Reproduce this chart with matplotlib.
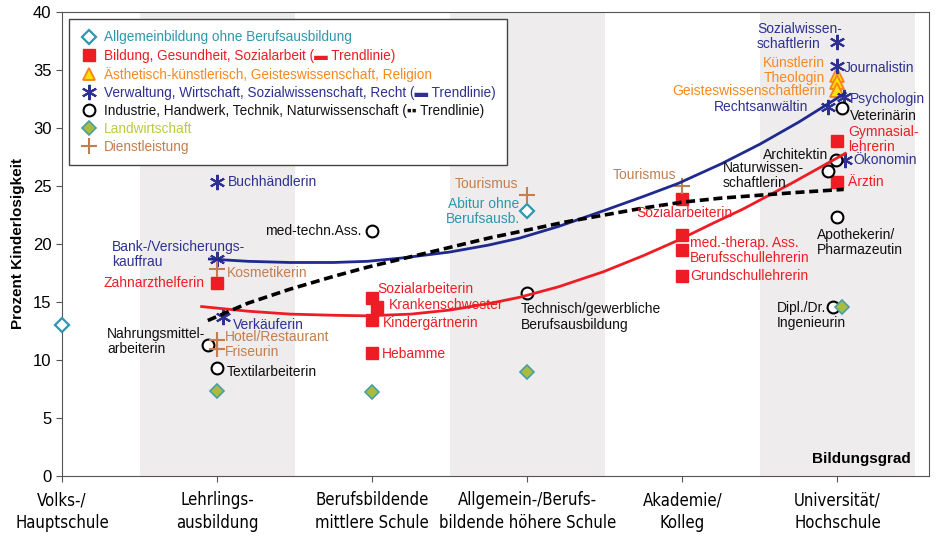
import matplotlib
matplotlib.use("Agg")
import matplotlib.pyplot as plt
from matplotlib.lines import Line2D

plt.rcParams['font.family'] = ['Liberation Sans', 'DejaVu Sans']

# Bildungsgrad categories (x axis)
categories = ["Volks-/\nHauptschule", "Lehrlings-\nausbildung", "Berufsbildende\nmittlere Schule",
              "Allgemein-/Berufs-\nbildende höhere Schule", "Akademie/\nKolleg", "Universität/\nHochschule"]

# Allgemeinbildung ohne Berufsausbildung
allg_x = [0, 3]
allg_y = [13.0, 22.8]

# Bildung, Gesundheit, Sozialarbeit
bild_x = [1, 2, 2.03, 2, 2, 4, 4, 4, 4, 5, 5]
bild_y = [16.6, 15.3, 14.6, 13.4, 10.6, 23.9, 20.8, 19.5, 17.2, 28.9, 25.3]

# Ästhetisch-künstlerisch, Geisteswissenschaft, Religion
aest_x = [5, 5, 5]
aest_y = [34.6, 34.0, 33.3]

# Verwaltung, Wirtschaft, Sozialwissenschaft, Recht
verw_x = [1, 1, 1.04, 5, 5, 5.04, 4.94, 5.05]
verw_y = [25.3, 18.7, 13.7, 37.4, 35.3, 32.7, 31.8, 27.2]

# Industrie, Handwerk, Technik, Naturwissenschaft
ind_x = [0.94, 1, 2, 3, 5.03, 4.99, 4.94, 5, 4.97]
ind_y = [11.3, 9.3, 21.1, 15.8, 31.7, 27.2, 26.3, 22.3, 14.6]

# Landwirtschaft
land_x = [1, 2, 3, 5.03]
land_y = [7.3, 7.2, 9.0, 14.6]

# Dienstleistung
dienst_x = [1, 1, 1, 3, 4]
dienst_y = [17.8, 11.7, 10.9, 24.2, 25.0]

# trend lines
red_tx = [0.9, 1.2, 1.47, 1.75, 1.97, 2.25, 2.5, 2.75, 2.95, 3.2, 3.49, 3.75, 3.97, 4.2, 4.39, 4.7, 5.05]
red_ty = [14.6, 14.2, 13.95, 13.85, 13.8, 13.95, 14.3, 14.85, 15.4, 16.3, 17.6, 19.0, 20.3, 21.8, 23.0, 25.2, 27.8]
blue_tx = [0.95, 1.2, 1.47, 1.75, 1.97, 2.2, 2.5, 2.75, 2.95, 3.2, 3.5, 3.75, 3.97, 4.25, 4.5, 4.75, 5.05]
blue_ty = [18.7, 18.5, 18.4, 18.4, 18.5, 18.8, 19.3, 19.9, 20.5, 21.5, 22.9, 24.1, 25.2, 26.9, 28.6, 30.5, 33.0]
black_tx = [0.94, 1.2, 1.47, 1.75, 1.97, 2.25, 2.5, 2.75, 3.0, 3.25, 3.5, 3.75, 4.0, 4.25, 4.5, 4.75, 5.04]
black_ty = [13.4, 14.9, 16.1, 17.2, 18.0, 18.9, 19.7, 20.5, 21.2, 21.9, 22.5, 23.1, 23.6, 23.95, 24.2, 24.45, 24.7]

# label placement: text, x, y, ha, colour key
labels = [
    ("Buchhändlerin", 1.07, 25.3, "left", "blue"),
    ("Bank-/Versicherungs-\nkauffrau", 0.32, 19.1, "left", "blue"),
    ("Verkäuferin", 1.10, 13.0, "left", "blue"),
    ("Sozialwissen-\nschaftlerin", 4.48, 37.9, "left", "blue"),
    ("Journalistin", 5.04, 35.2, "left", "blue"),
    ("Rechtsanwältin", 4.81, 31.8, "right", "blue"),
    ("Psychologin", 5.08, 32.5, "left", "blue"),
    ("Ökonomin", 5.10, 27.2, "left", "blue"),
    ("Zahnarzthelferin", 0.92, 16.6, "right", "red"),
    ("Sozialarbeiterin", 2.03, 16.1, "left", "red"),
    ("Krankenschwester", 2.11, 14.7, "left", "red"),
    ("Kindergärtnerin", 2.07, 13.2, "left", "red"),
    ("Hebamme", 2.06, 10.5, "left", "red"),
    ("Sozialarbeiterin", 4.01, 22.7, "center", "red"),
    ("med.-therap. Ass.\nBerufsschullehrerin", 4.05, 19.4, "left", "red"),
    ("Grundschullehrerin", 4.05, 17.2, "left", "red"),
    ("Gymnasial-\nlehrerin", 5.07, 29.0, "left", "red"),
    ("Ärztin", 5.07, 25.3, "left", "red"),
    ("Künstlerin", 4.92, 35.6, "right", "orange"),
    ("Theologin", 4.92, 34.3, "right", "orange"),
    ("Geisteswissenschaftlerin", 4.92, 33.2, "right", "orange"),
    ("Nahrungsmittel-\narbeiterin", 0.29, 11.6, "left", "black"),
    ("Textilarbeiterin", 1.06, 9.0, "left", "black"),
    ("med-techn.Ass.", 1.93, 21.1, "right", "black"),
    ("Technisch/gewerbliche\nBerufsausbildung", 2.96, 13.7, "left", "black"),
    ("Veterinärin", 5.08, 31.0, "left", "black"),
    ("Architektin", 4.94, 27.7, "right", "black"),
    ("Naturwissen-\nschaftlerin", 4.26, 25.9, "left", "black"),
    ("Apothekerin/\nPharmazeutin", 4.87, 20.1, "left", "black"),
    ("Dipl./Dr.\nIngenieurin", 4.61, 13.8, "left", "black"),
    ("Kosmetikerin", 1.06, 17.5, "left", "brown"),
    ("Hotel/Restaurant\nFriseurin", 1.05, 11.3, "left", "brown"),
    ("Tourismus", 2.94, 25.2, "right", "brown"),
    ("Tourismus", 3.96, 25.9, "right", "brown"),
    ("Abitur ohne\nBerufsausb.", 2.95, 22.8, "right", "teal"),
]

colors = {"teal": "#2E97AE", "red": "#EE1D25", "orange": "#F7891F", "blue": "#2E3192",
          "black": "#111111", "green": "#B9CB3C", "brown": "#C47E4E"}

fig = plt.figure(figsize=(9.4, 5.39), dpi=100)
ax = fig.add_axes([0.066, 0.117, 0.9223, 0.8609])

for c in [1, 3, 5]:
    ax.axvspan(c - 0.5, c + 0.5, color="#EEECEC", zorder=0, lw=0)

ax.plot(allg_x, allg_y, ls="none", marker="D", ms=7.5, mfc="white", mec=colors["teal"], mew=1.6, zorder=3, clip_on=False)
ax.plot(bild_x, bild_y, ls="none", marker="s", ms=9, color=colors["red"], zorder=3)
ax.plot(aest_x, aest_y, ls="none", marker="^", ms=9.5, mfc="#FFE000", mec="#F58220", mew=1.3, zorder=3)
ax.plot(verw_x, verw_y, ls="none", marker=(6, 2, 0), ms=11, mec=colors["blue"], mew=1.5, zorder=3)
ax.plot(ind_x, ind_y, ls="none", marker="o", ms=8.5, mfc="white", mec="black", mew=1.5, zorder=3)
ax.plot(land_x, land_y, ls="none", marker="D", ms=7.5, mfc="#A9BC3F", mec="#4A9FA6", mew=1.2, zorder=3)
ax.plot(dienst_x, dienst_y, ls="none", marker="+", ms=11, mec=colors["brown"], mew=1.5, zorder=3)

ax.plot(red_tx, red_ty, color="#EE1D25", lw=2, zorder=4)
ax.plot(blue_tx, blue_ty, color="#1F2A8F", lw=2, zorder=4)
ax.plot(black_tx, black_ty, color="black", lw=2.6, ls=(0, (2.5, 1.3)), zorder=4)

for txt, x, y, ha, ck in labels:
    ax.text(x, y, txt, ha=ha, va="center", fontsize=10, color=colors[ck],
            linespacing=1.1, zorder=5)

ax.text(5.47, 1.5, "Bildungsgrad", ha="right", va="center", fontsize=11, fontweight="bold")

ax.set_xlim(0, 5.59)
ax.set_ylim(0, 40)
ax.set_yticks(range(0, 41, 5))
ax.set_xticks(range(6))
ax.set_xticklabels(categories, fontsize=12, linespacing=1.35,
                   family="DejaVu Sans", fontstretch="condensed")
ax.tick_params(axis="x", length=4, pad=7, color="#555555")
ax.tick_params(axis="y", length=4, labelsize=12, color="#555555")
for s in ax.spines.values():
    s.set_color("#555555")
ax.set_ylabel("Prozent Kinderlosigkeit", fontsize=11, fontweight="bold", labelpad=6)

handles = [
    Line2D([], [], ls="none", marker="D", ms=7, mfc="white", mec=colors["teal"], mew=1.6),
    Line2D([], [], ls="none", marker="s", ms=9, color=colors["red"]),
    Line2D([], [], ls="none", marker="^", ms=9, mfc="#FFE000", mec="#F58220", mew=1.3),
    Line2D([], [], ls="none", marker=(6, 2, 0), ms=11, mec=colors["blue"], mew=1.5),
    Line2D([], [], ls="none", marker="o", ms=8.5, mfc="white", mec="black", mew=1.5),
    Line2D([], [], ls="none", marker="D", ms=7, mfc="#A9BC3F", mec="#4A9FA6", mew=1.2),
    Line2D([], [], ls="none", marker="+", ms=11, mec=colors["brown"], mew=1.5),
]
names = [
    "Allgemeinbildung ohne Berufsausbildung",
    "Bildung, Gesundheit, Sozialarbeit (\u25ac Trendlinie)",
    "Ästhetisch-künstlerisch, Geisteswissenschaft, Religion",
    "Verwaltung, Wirtschaft, Sozialwissenschaft, Recht (\u25ac Trendlinie)",
    "Industrie, Handwerk, Technik, Naturwissenschaft (\u25aa\u25aa Trendlinie)",
    "Landwirtschaft",
    "Dienstleistung",
]
leg = ax.legend(handles, names, loc="upper left", bbox_to_anchor=(0.008, 0.985), borderaxespad=0,
                fontsize=9.8, labelspacing=0.3, handletextpad=0.5, handlelength=1.2,
                fancybox=False, framealpha=1, edgecolor="#444444", borderpad=0.85)
leg.get_frame().set_linewidth(1)
for t, ck in zip(leg.get_texts(), ["teal", "red", "orange", "blue", "black", "green", "brown"]):
    t.set_color(colors[ck])

fig.savefig("out.png", dpi=100)
